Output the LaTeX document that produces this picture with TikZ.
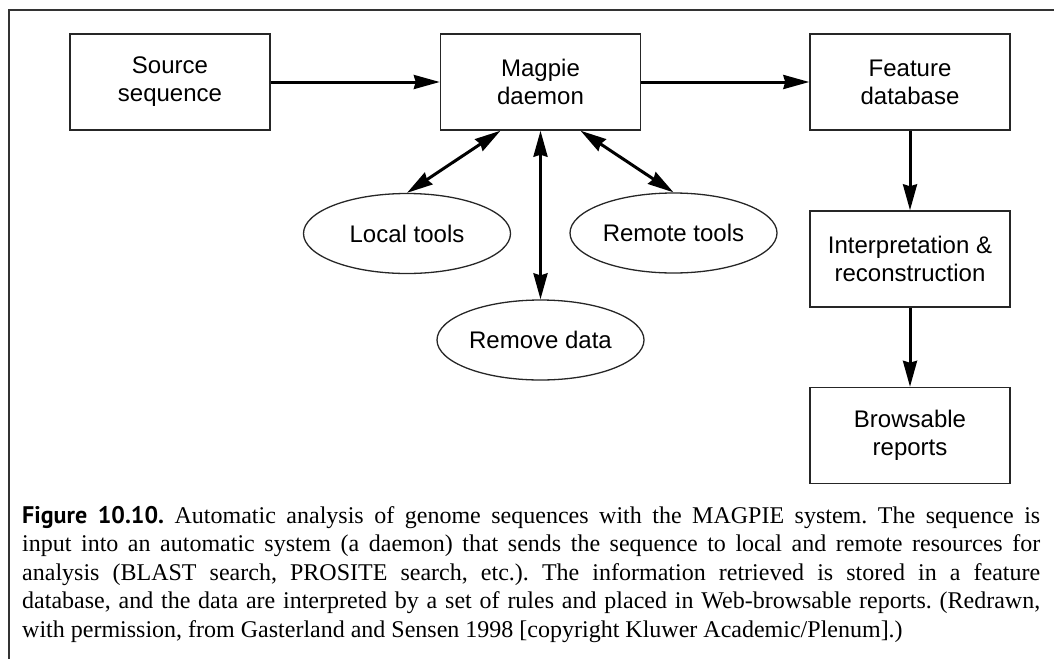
\documentclass[tikz,border=0pt]{standalone}
\usepackage{fontspec}
\setmainfont{Liberation Serif}
\newfontfamily\diagfont{Liberation Sans}
\newfontfamily\figfont{PT Sans}
\usetikzlibrary{arrows.meta,shapes.geometric}
\begin{document}
\begin{tikzpicture}[x=1pt,y=-1pt,
  lab/.style={font=\diagfont\fontsize{24}{28}\selectfont},
  box/.style={lab, draw=black!85, line width=1.4pt, minimum width=200pt, minimum height=96pt, align=center, inner sep=0pt},
  oval/.style={lab, ellipse, draw=black!85, line width=1.3pt, minimum width=207pt, minimum height=80pt, inner sep=0pt},
  tip/.tip={Stealth[length=26pt,width=14pt,inset=2pt]},
  conn/.style={line width=3pt, -tip},
  both/.style={line width=3pt, tip-tip},
  frame/.style={draw=black!80, line width=1.5pt}
]
\useasboundingbox (0,0) rectangle (1054,659);
\coordinate (ftop) at (1054,10);
\coordinate (fcorner) at (9,10);
\coordinate (fbot) at (9,659);
\draw[frame] (ftop) -- (fcorner) -- (fbot);

\node[box] (src) at (170,82) {Source\\sequence};
\node[box] (mag) at (540.5,82) {Magpie\\daemon};
\node[box] (feat) at (910,82) {Feature\\database};
\node[box] (interp) at (910,259) {Interpretation \&\\reconstruction};
\node[box] (brow) at (910,435.5) {Browsable\\reports};

\node[oval] (local) at (407,233.5) {Local tools};
\node[oval] (remote) at (673.5,233) {Remote tools};
\node[oval] (rdata) at (540.5,340) {Remove data};

\draw[conn] (src) -- (mag);
\draw[conn] (mag) -- (feat);
\draw[conn] (feat) -- (interp);
\draw[conn] (interp) -- (brow);
\draw[both] ([xshift=-40pt]mag.south) -- (local.north);
\draw[both] (mag.south) -- (rdata.north);
\draw[both] ([xshift=40pt]mag.south) -- (remote.north);

\node[anchor=base west, text width=1018pt, align=justify, inner sep=0pt,
  font=\fontsize{24}{28.5}\selectfont\frenchspacing] (cap) at (22,523)
{{\figfont\bfseries Figure 10.10.} Automatic analysis of genome sequences with the MAGPIE system. The sequence is\linebreak
input into an automatic system (a daemon) that sends the sequence to local and remote resources for\linebreak
analysis (BLAST search, PROSITE search, etc.). The information retrieved is stored in a feature\linebreak
database, and the data are interpreted by a set of rules and placed in Web-browsable reports. (Redrawn,\linebreak
with permission, from Gasterland and Sensen 1998 [copyright Kluwer Academic/Plenum].)};
\end{tikzpicture}
\end{document}
